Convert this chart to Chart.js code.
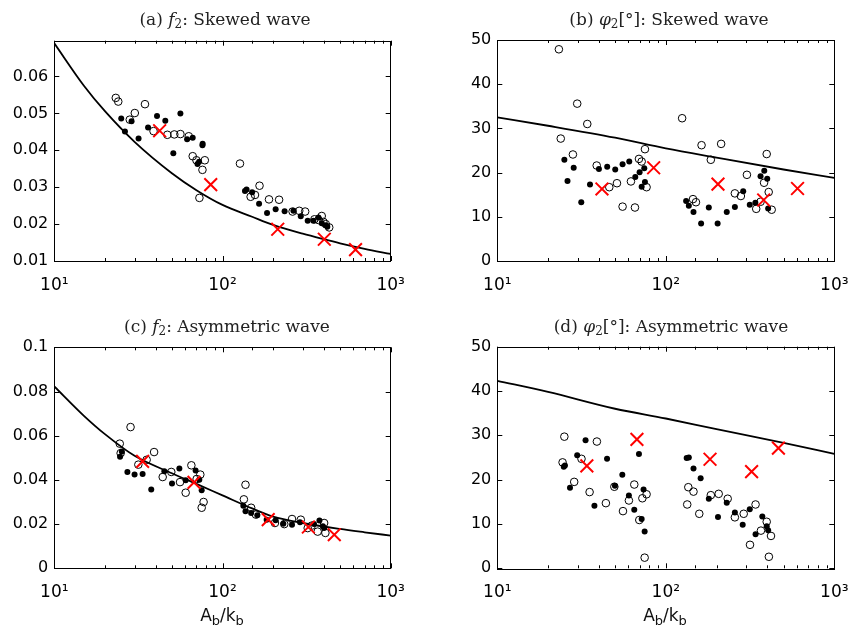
<!DOCTYPE html>
<html>
<head>
<meta charset="utf-8">
<script src="https://cdn.jsdelivr.net/npm/chart.js@4.4.1/dist/chart.umd.min.js"></script>
<style>
  body { margin: 0; background: #fff; }
  #wrap { position: relative; width: 851px; height: 638px; background: #fff; overflow: hidden; }
  canvas { position: absolute; }
  .ttl { position: absolute; transform: translate(-50%, -50%); font-family: "DejaVu Serif", serif; font-size: 17px; color: #222; white-space: nowrap; }
  .ttl sub { font-size: 12px; vertical-align: -3px; }
  .xl { position: absolute; transform: translate(-50%, -50%); font-family: "DejaVu Sans", sans-serif; font-size: 17px; color: #111; white-space: nowrap; }
  .xl sub { font-size: 13px; vertical-align: -4px; }
</style>
</head>
<body>
<div id="wrap">
  <canvas id="ca" width="425" height="300" style="left:0;top:0"></canvas>
  <canvas id="cb" width="426" height="300" style="left:425px;top:0"></canvas>
  <canvas id="cc" width="425" height="338" style="left:0;top:300px"></canvas>
  <canvas id="cd" width="426" height="338" style="left:425px;top:300px"></canvas>
  <div class="ttl" style="left:225px;top:20px">(a) <i>f</i><sub>2</sub>: Skewed wave</div>
  <div class="ttl" style="left:669px;top:20px">(b) <i>φ</i><sub>2</sub>[°]: Skewed wave</div>
  <div class="ttl" style="left:227px;top:327px">(c) <i>f</i><sub>2</sub>: Asymmetric wave</div>
  <div class="ttl" style="left:671px;top:327px">(d) <i>φ</i><sub>2</sub>[°]: Asymmetric wave</div>
  <div class="xl" style="left:222px;top:616px">A<sub>b</sub>/k<sub>b</sub></div>
  <div class="xl" style="left:665px;top:616px">A<sub>b</sub>/k<sub>b</sub></div>
</div>
<script>
// (a) f2, skewed wave
const aOpenX = [23.2, 24.0, 28.1, 30.1, 34.6, 38.9, 47.0, 51.7, 56.2, 63.0, 66.5, 70.0, 78.5, 76.0, 72.9, 127, 147, 156, 166, 189, 217, 261, 286, 310, 352, 372, 389, 398, 411, 431];
const aOpenY = [0.0542, 0.0532, 0.0483, 0.0501, 0.0525, 0.0452, 0.0442, 0.0443, 0.0444, 0.0438, 0.0384, 0.0373, 0.0373, 0.0347, 0.0271, 0.0364, 0.0274, 0.0279, 0.0304, 0.0267, 0.0266, 0.0234, 0.0236, 0.0234, 0.0213, 0.0211, 0.0222, 0.0206, 0.0200, 0.0191];
const aFilledX = [25.0, 26.3, 28.8, 31.7, 36.1, 40.8, 45.7, 51.0, 56.2, 61.6, 66.5, 71.0, 72.6, 76.0, 76.2, 136, 139, 150, 165, 184, 207, 234, 264, 292, 321, 347, 372, 389, 411, 420];
const aFilledY = [0.0486, 0.0451, 0.0479, 0.0432, 0.0462, 0.0493, 0.0480, 0.0392, 0.0500, 0.0430, 0.0434, 0.0363, 0.0369, 0.0414, 0.0418, 0.0290, 0.0294, 0.0286, 0.0255, 0.0230, 0.0240, 0.0235, 0.0236, 0.0221, 0.0209, 0.0209, 0.0218, 0.0202, 0.0197, 0.0193];
const aCrossX = [42.3, 85.1, 213, 403, 618];
const aCrossY = [0.0453, 0.0307, 0.0186, 0.0159, 0.0131];
const aCurveX = [10, 15, 20, 30, 50, 70, 100, 150, 200, 300, 400, 500, 700, 1000];
const aCurveY = [0.0690, 0.0575, 0.0506, 0.0423, 0.0338, 0.0292, 0.0252, 0.0220, 0.0198, 0.0174, 0.0159, 0.0148, 0.0133, 0.0119];

// (b) phi2, skewed wave
const bOpenX = [23.2, 23.8, 28.1, 29.8, 34.2, 38.9, 46.2, 51.3, 55.4, 62.1, 65.6, 69.3, 71.9, 75.2, 76.9, 125, 145, 151, 163, 185, 213, 257, 279, 303, 344, 365, 383, 397, 408, 425];
const bOpenY = [47.9, 27.7, 24.1, 35.6, 31.0, 21.6, 16.7, 17.6, 12.3, 18.0, 12.1, 23.1, 22.5, 25.3, 16.7, 32.3, 14.0, 13.3, 26.2, 22.9, 26.5, 15.3, 14.7, 19.5, 11.8, 13.4, 17.7, 24.2, 15.6, 11.6];
const bFilledX = [25.0, 26.1, 28.4, 31.5, 35.5, 40.1, 44.9, 50.1, 55.4, 60.7, 65.9, 69.9, 71.9, 74.5, 75.2, 132, 137, 146, 162, 180, 203, 230, 257, 288, 315, 340, 365, 384, 400, 405];
const bFilledY = [22.9, 18.1, 21.1, 13.3, 17.3, 20.8, 21.3, 20.7, 21.9, 22.5, 19.0, 20.1, 16.8, 21.0, 17.9, 13.6, 12.5, 11.1, 8.5, 12.1, 8.5, 11.1, 12.2, 15.8, 12.7, 13.2, 19.2, 20.4, 18.6, 11.9];
const bCrossX = [41.8, 84.7, 204, 381, 605];
const bCrossY = [16.3, 21.1, 17.4, 13.8, 16.4];
const bCurveX = [10, 20, 50, 100, 200, 500, 1000];
const bCurveY = [32.5, 30.6, 27.9, 25.5, 23.4, 20.7, 18.8];

// (c) f2, asymmetric wave
const cOpenX = [28.4, 24.5, 24.8, 31.6, 35.4, 39.2, 44.1, 49.6, 55.9, 60.4, 65.3, 70.2, 73.8, 75.2, 77.2, 134, 137, 148, 158, 205, 233, 259, 292, 321, 339, 368, 402, 409];
const cOpenY = [0.0639, 0.0564, 0.0521, 0.0469, 0.0491, 0.0526, 0.0413, 0.0436, 0.0390, 0.0342, 0.0466, 0.0404, 0.0424, 0.0274, 0.0300, 0.0312, 0.0378, 0.0274, 0.0243, 0.0205, 0.0200, 0.0223, 0.0220, 0.0182, 0.0193, 0.0166, 0.0205, 0.0160];
const cFilledX = [24.6, 25.2, 27.2, 30.0, 33.5, 37.7, 45.1, 50.1, 55.4, 60.4, 69.2, 72.8, 75.2, 133, 137, 148, 161, 183, 207, 230, 259, 289, 350, 377, 395, 402];
const cFilledY = [0.0505, 0.0529, 0.0436, 0.0425, 0.0427, 0.0356, 0.0439, 0.0384, 0.0452, 0.0398, 0.0443, 0.0401, 0.0353, 0.0283, 0.0258, 0.0250, 0.0240, 0.0220, 0.0217, 0.0202, 0.0197, 0.0208, 0.0200, 0.0216, 0.0190, 0.0182];
const cCrossX = [33.5, 67.7, 187, 324, 462];
const cCrossY = [0.0484, 0.0389, 0.0220, 0.0187, 0.0152];
const cCurveX = [10, 15, 20, 30, 50, 70, 100, 150, 200, 300, 500, 700, 1000];
const cCurveY = [0.0823, 0.0690, 0.0607, 0.0509, 0.0430, 0.0382, 0.0330, 0.0271, 0.0234, 0.0205, 0.0178, 0.0163, 0.0148];

// (d) phi2, asymmetric wave
const dOpenX = [25.0, 24.4, 28.6, 31.6, 35.3, 39.0, 44.1, 49.5, 55.7, 60.4, 65.0, 69.6, 72.6, 74.9, 76.9, 134, 136, 146, 158, 185, 206, 233, 257, 290, 316, 341, 367, 397, 409, 421];
const dOpenY = [29.7, 23.9, 19.5, 24.7, 17.2, 28.6, 14.7, 18.4, 12.9, 15.3, 18.9, 10.9, 15.8, 2.4, 16.7, 14.4, 18.3, 17.3, 12.3, 16.5, 16.8, 15.7, 11.5, 12.3, 5.3, 14.4, 8.5, 10.5, 2.6, 7.3];
const dFilledX = [24.8, 25.2, 27.0, 29.8, 33.4, 37.7, 44.8, 49.9, 55.2, 60.4, 65.0, 69.3, 71.9, 73.8, 74.9, 133, 137, 146, 161, 180, 204, 230, 257, 286, 315, 341, 374, 397, 405];
const dFilledY = [22.9, 23.2, 18.2, 25.5, 28.9, 14.1, 24.7, 18.6, 21.1, 16.4, 13.2, 25.8, 11.1, 17.8, 8.3, 24.9, 25.0, 22.5, 20.3, 15.7, 11.6, 14.8, 12.6, 9.8, 13.3, 7.7, 11.7, 9.5, 8.6];
const dCrossX = [34.0, 67.4, 183, 323, 466];
const dCrossY = [23.1, 29.1, 24.6, 21.8, 27.1];
const dCurveX = [10, 20, 50, 100, 200, 500, 1000];
const dCurveY = [42.3, 39.8, 36.0, 33.8, 31.4, 28.3, 25.8];

const xTickLabels = { 10: '10¹', 100: '10²', 1000: '10³' };

function pts(xs, ys) {
    return xs.map((x, i) => ({ x: x, y: ys[i] }));
}

// MATLAB style box with inward ticks on all four sides
const boxPlugin = {
    id: 'matlabBox',
    afterDraw(chart) {
        const ctx = chart.ctx;
        const a = chart.chartArea;
        const xs = chart.scales.x, ys = chart.scales.y;
        ctx.save();
        ctx.strokeStyle = '#000';
        ctx.lineWidth = 1;
        ctx.strokeRect(Math.round(a.left) + 0.5, Math.round(a.top) + 0.5, Math.round(a.right - a.left), Math.round(a.bottom - a.top));
        ctx.beginPath();
        xs.ticks.forEach(t => {
            const major = xTickLabels[t.value] !== undefined;
            const len = major ? 5 : 3;
            const px = Math.round(xs.getPixelForValue(t.value)) + 0.5;
            ctx.moveTo(px, a.bottom); ctx.lineTo(px, a.bottom - len);
            ctx.moveTo(px, a.top); ctx.lineTo(px, a.top + len);
        });
        ys.ticks.forEach(t => {
            const py = Math.round(ys.getPixelForValue(t.value)) + 0.5;
            ctx.moveTo(a.left, py); ctx.lineTo(a.left + 5, py);
            ctx.moveTo(a.right, py); ctx.lineTo(a.right - 5, py);
        });
        ctx.stroke();
        ctx.restore();
    }
};

function makePanel(id, box, yMin, yMax, yStep, openX, openY, filledX, filledY, crossX, crossY, curveX, curveY) {
    const canvas = document.getElementById(id);
    const W = canvas.width, H = canvas.height;
    const xAxisH = 34;
    return new Chart(canvas, {
        type: 'scatter',
        data: {
            datasets: [
                {
                    label: 'Crosses',
                    data: pts(crossX, crossY),
                    pointStyle: 'crossRot',
                    pointRadius: 9,
                    borderColor: 'rgb(255,0,0)',
                    borderWidth: 2
                },
                {
                    label: 'Filled',
                    data: pts(filledX, filledY),
                    pointStyle: 'circle',
                    pointRadius: 3,
                    backgroundColor: '#000',
                    borderColor: '#000',
                    borderWidth: 0
                },
                {
                    label: 'Open',
                    data: pts(openX, openY),
                    pointStyle: 'circle',
                    pointRadius: 3.8,
                    backgroundColor: 'rgba(0,0,0,0)',
                    borderColor: '#000',
                    borderWidth: 1
                },
                {
                    label: 'Curve',
                    data: pts(curveX, curveY),
                    showLine: true,
                    pointRadius: 0,
                    borderColor: '#000',
                    borderWidth: 1.8,
                    cubicInterpolationMode: 'monotone'
                }
            ]
        },
        options: {
            responsive: false,
            animation: false,
            events: [],
            layout: {
                padding: { left: 0, top: box[1], right: W - box[2], bottom: H - box[3] - xAxisH }
            },
            plugins: { legend: { display: false }, tooltip: { enabled: false } },
            scales: {
                x: {
                    type: 'logarithmic',
                    min: 10,
                    max: 1000,
                    grid: { display: false, drawTicks: false },
                    border: { display: false },
                    afterFit: s => {
                        s.height = xAxisH;
                        s.paddingLeft = 0;
                        s.paddingRight = 0;
                    },
                    ticks: {
                        autoSkip: false,
                        maxRotation: 0,
                        padding: 14,
                        color: '#000',
                        font: { family: 'DejaVu Sans', size: 17 },
                        callback: v => xTickLabels[v] || ''
                    }
                },
                y: {
                    min: yMin,
                    max: yMax,
                    grid: { display: false, drawTicks: false },
                    border: { display: false },
                    afterFit: s => {
                        s.width = box[0];
                        s.paddingTop = 0;
                        s.paddingBottom = 0;
                    },
                    ticks: {
                        stepSize: yStep,
                        includeBounds: false,
                        padding: 6,
                        color: '#000',
                        font: { family: 'DejaVu Sans', size: 16 },
                        callback: v => String(+v.toFixed(3))
                    }
                }
            }
        },
        plugins: [boxPlugin]
    });
}

makePanel('ca', [54.3, 40.7, 390.7, 261], 0.01, 0.0697, 0.01, aOpenX, aOpenY, aFilledX, aFilledY, aCrossX, aCrossY, aCurveX, aCurveY);
makePanel('cb', [72.3, 40, 409.3, 261], 0, 50, 10, bOpenX, bOpenY, bFilledX, bFilledY, bCrossX, bCrossY, bCurveX, bCurveY);
makePanel('cc', [54.3, 47.3, 390.7, 268.3], 0, 0.1, 0.02, cOpenX, cOpenY, cFilledX, cFilledY, cCrossX, cCrossY, cCurveX, cCurveY);
makePanel('cd', [72.3, 46.7, 409.3, 268.3], 0, 50, 10, dOpenX, dOpenY, dFilledX, dFilledY, dCrossX, dCrossY, dCurveX, dCurveY);
</script>
</body>
</html>
